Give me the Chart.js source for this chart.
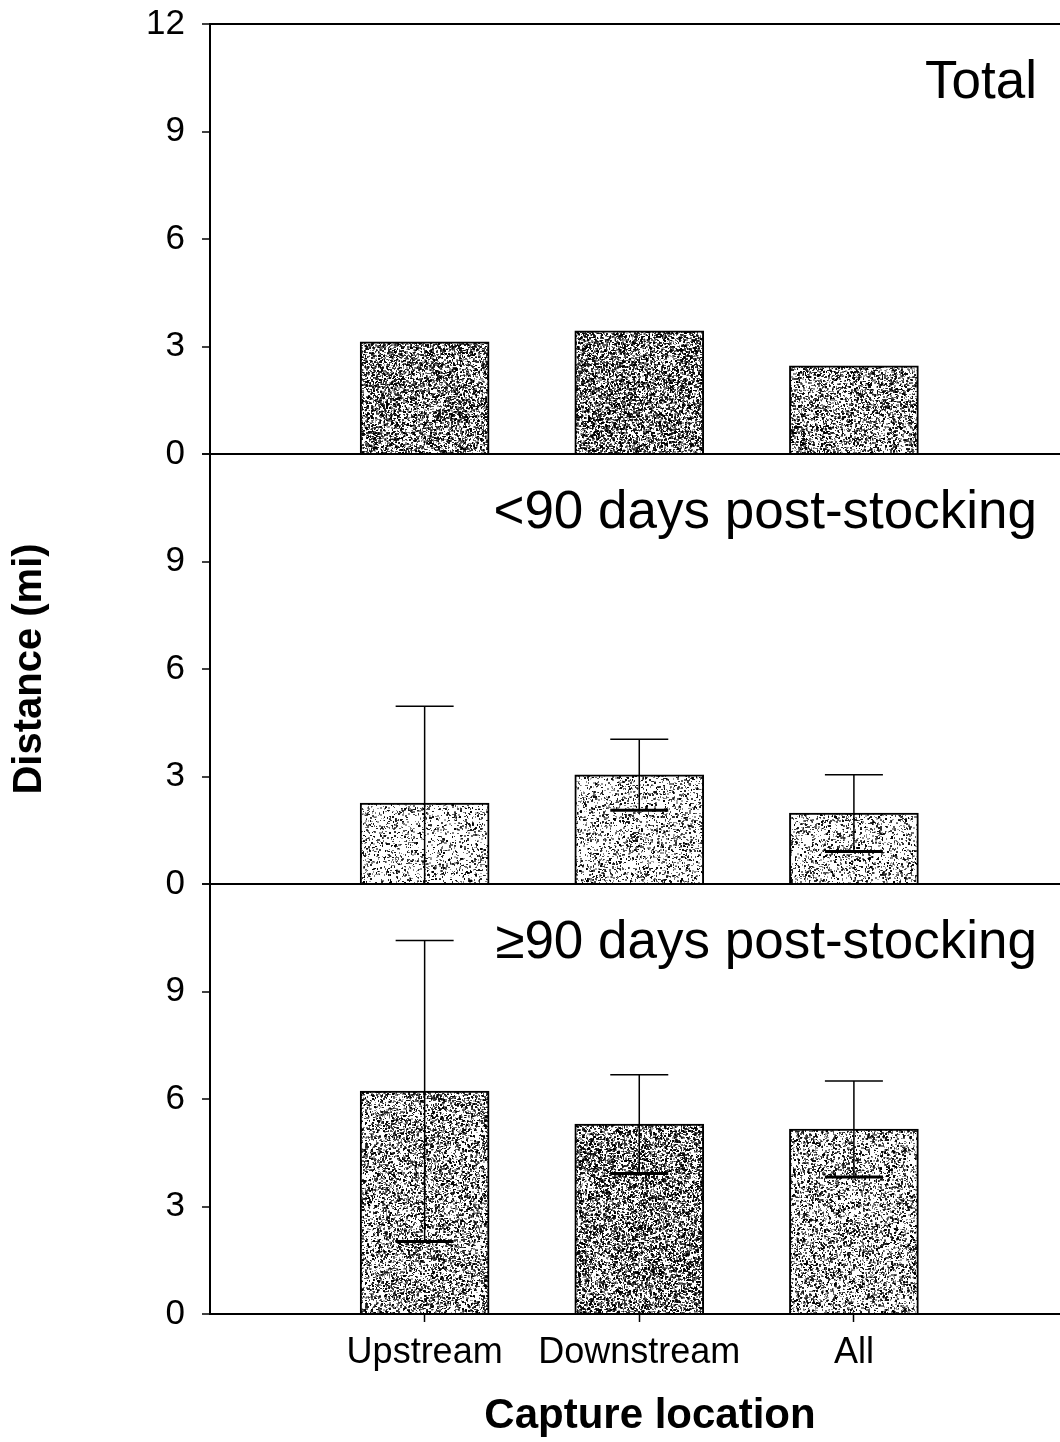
<!DOCTYPE html>
<html>
<head>
<meta charset="utf-8">
<script src="https://cdn.jsdelivr.net/npm/chart.js@4.4.1/dist/chart.umd.min.js"></script>
<style>
  html, body { margin: 0; padding: 0; background: #fff; overflow: hidden; }
  #wrap { position: absolute; left: 0; top: -14px; width: 1090px; height: 1456px; }
</style>
</head>
<body>
<div id="wrap"><canvas id="chart" width="1090" height="1456"></canvas></div>
<script>
// values (miles)
var categories = ['Upstream', 'Downstream', 'All'];
var panelTitles = ['Total', '<90 days post-stocking', '\u226590 days post-stocking'];
var totalMean = [3.13, 3.44, 2.46];
var earlyMean = [2.26, 3.05, 1.98];
var earlyErr = [2.70, 0.99, 1.07];
var lateMean = [6.22, 5.30, 5.16];
var lateErr = [4.20, 1.38, 1.34];
var yTicks = [0, 3, 6, 9, 12];

var FONT = 'Liberation Sans, Arial, sans-serif';
var canvas = document.getElementById('chart');
var mainCtx = canvas.getContext('2d');

// speckled grey fill like the scanned original
function stipple(density, seed) {
    var size = 160;
    var c = document.createElement('canvas');
    c.width = size; c.height = size;
    var g = c.getContext('2d');
    g.fillStyle = '#fff';
    g.fillRect(0, 0, size, size);
    var s = seed;
    function rnd() { s = (s * 16807) % 2147483647; return s / 2147483647; }
    var n = Math.round(size * size * density * 0.3);
    for (var k = 0; k < n; k++) {
        var x = Math.floor(rnd() * size), y = Math.floor(rnd() * size);
        var a = 0.3 + rnd() * 0.7;
        g.fillStyle = 'rgba(0,0,0,' + a.toFixed(2) + ')';
        g.fillRect(x, y, 1 + Math.floor(rnd() * 2), 1 + Math.floor(rnd() * 2));
    }
    return mainCtx.createPattern(c, 'repeat');
}

function points(arr) {
    return arr.map(function(v, i) { return { x: i + 1, y: v }; });
}

function yAxis(weight, isTop, title) {
    return {
        type: 'linear',
        position: 'left',
        stack: 'panels',
        stackWeight: 1,
        weight: weight,
        min: 0,
        max: 12,
        afterBuildTicks: function(s) { s.ticks = yTicks.map(function(v) { return { value: v }; }); },
        afterFit: function(s) { s.width = 210; },
        border: { display: true, color: '#000', width: 2 },
        grid: {
            color: function(c) {
                if (!c.tick) return 'rgba(0,0,0,0)';
                return (c.tick.value === 0 || (isTop && c.tick.value === 12)) ? '#000' : 'rgba(0,0,0,0)';
            },
            lineWidth: 2,
            tickColor: '#000',
            tickLength: 8,
            tickWidth: 1.5
        },
        ticks: {
            color: '#000',
            font: { family: FONT, size: 35 },
            padding: 17,
            autoSkip: false,
            callback: function(v) { return (!isTop && v === 12) ? '' : v; }
        },
        title: title ? {
            display: true,
            text: title,
            color: '#000',
            font: { family: FONT, size: 40, weight: 'bold' },
            padding: { top: 6, bottom: 0 }
        } : { display: false }
    };
}

var errorBars = {
    id: 'errorBars',
    afterDatasetsDraw: function(chart) {
        var ctx = chart.ctx;
        chart.data.datasets.forEach(function(ds, di) {
            if (!ds.err) return;
            var meta = chart.getDatasetMeta(di);
            var ys = chart.scales[ds.yAxisID];
            meta.data.forEach(function(bar, i) {
                var m = ds.data[i].y, e = ds.err[i];
                var lo = m - e;
                var yHi = ys.getPixelForValue(m + e);
                var yLo = ys.getPixelForValue(Math.max(lo, 0));
                ctx.save();
                ctx.strokeStyle = '#000';
                ctx.lineWidth = 1.5;
                ctx.beginPath();
                ctx.moveTo(bar.x, yHi);
                ctx.lineTo(bar.x, yLo);
                ctx.moveTo(bar.x - 29, yHi);
                ctx.lineTo(bar.x + 29, yHi);
                ctx.stroke();
                if (lo > 0) {
                    ctx.lineWidth = 3;
                    ctx.beginPath();
                    ctx.moveTo(bar.x - 29, yLo);
                    ctx.lineTo(bar.x + 29, yLo);
                    ctx.stroke();
                }
                ctx.restore();
            });
        });
    }
};

var panelLabels = {
    id: 'panelLabels',
    afterDraw: function(chart) {
        var ctx = chart.ctx;
        ['yTop', 'yMid', 'yBot'].forEach(function(id, i) {
            var s = chart.scales[id];
            ctx.save();
            ctx.fillStyle = '#000';
            ctx.font = '53px ' + FONT;
            ctx.textAlign = 'right';
            ctx.textBaseline = 'alphabetic';
            ctx.fillText(panelTitles[i], chart.chartArea.right - 53, s.top + 74);
            ctx.restore();
        });
    }
};

new Chart(canvas, {
    type: 'bar',
    data: {
        datasets: [
            {
                label: panelTitles[0],
                data: points(totalMean),
                yAxisID: 'yTop',
                backgroundColor: [stipple(1.35, 11), stipple(1.45, 23), stipple(1.05, 37)],
                borderColor: '#000',
                borderWidth: 2,
                barThickness: 129,
                grouped: false
            },
            {
                label: panelTitles[1],
                data: points(earlyMean),
                err: earlyErr,
                yAxisID: 'yMid',
                backgroundColor: [stipple(0.45, 41), stipple(0.55, 53), stipple(0.55, 67)],
                borderColor: '#000',
                borderWidth: 2,
                barThickness: 129,
                grouped: false
            },
            {
                label: panelTitles[2],
                data: points(lateMean),
                err: lateErr,
                yAxisID: 'yBot',
                backgroundColor: [stipple(1.0, 71), stipple(1.4, 83), stipple(0.85, 97)],
                borderColor: '#000',
                borderWidth: 2,
                barThickness: 129,
                grouped: false
            }
        ]
    },
    options: {
        responsive: false,
        animation: false,
        layout: { padding: { top: 10, left: 0, right: 0, bottom: 0 } },
        plugins: {
            legend: { display: false },
            tooltip: { enabled: false }
        },
        scales: {
            x: {
                type: 'linear',
                min: 0,
                max: 4.1,
                offset: false,
                afterBuildTicks: function(s) { s.ticks = categories.map(function(c, i) { return { value: i + 1 }; }); },
                afterFit: function(s) { s.height = 128; },
                border: { display: true, color: '#000', width: 2 },
                grid: { offset: false, drawOnChartArea: false, tickColor: '#000', tickLength: 8, tickWidth: 1.5 },
                ticks: {
                    color: '#000',
                    font: { family: FONT, size: 36 },
                    padding: 9,
                    autoSkip: false,
                    maxRotation: 0,
                    callback: function(v) { return categories[v - 1] || ''; }
                },
                title: {
                    display: true,
                    text: 'Capture location',
                    color: '#000',
                    font: { family: FONT, size: 42, weight: 'bold' },
                    padding: { top: 0, bottom: 0 }
                }
            },
            yTop: yAxis(3, true, null),
            yMid: yAxis(2, false, 'Distance (mi)'),
            yBot: yAxis(1, false, null)
        }
    },
    plugins: [errorBars, panelLabels]
});
</script>
</body>
</html>
